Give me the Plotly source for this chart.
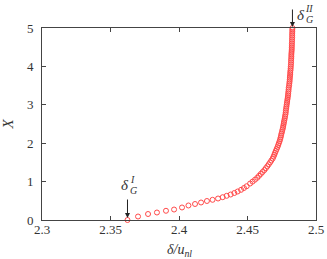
import plotly.graph_objects as go

# Lower branch (sparse markers)
x_low = [0.0, 0.091, 0.156, 0.195, 0.240, 0.273, 0.326, 0.378, 0.417, 0.456,
         0.495, 0.526, 0.560, 0.594, 0.630, 0.664, 0.703, 0.742, 0.786, 0.833, 0.880]
d_low = [2.3624, 2.3701, 2.3774, 2.3839, 2.3905, 2.3964, 2.4022, 2.4069, 2.4117, 2.4161,
         2.4204, 2.4245, 2.4285, 2.4319, 2.4348, 2.4377, 2.4404, 2.4428, 2.4453, 2.4474, 2.4494]

# Upper branch (dense markers)
x_up = [0.95, 1.00, 1.05, 1.10, 1.15, 1.20, 1.25, 1.30, 1.35, 1.40,
        1.45, 1.50, 1.55, 1.60, 1.65, 1.70, 1.75, 1.80, 1.85, 1.90,
        1.95, 2.00, 2.05, 2.10, 2.15, 2.20, 2.25, 2.30, 2.35, 2.40,
        2.45, 2.50, 2.55, 2.60, 2.65, 2.70, 2.75, 2.80, 2.85, 2.90,
        2.95, 3.00, 3.05, 3.10, 3.15, 3.20, 3.25, 3.30, 3.35, 3.40,
        3.45, 3.50, 3.55, 3.60, 3.65, 3.70, 3.75, 3.80, 3.85, 3.90,
        3.95, 4.00, 4.05, 4.10, 4.15, 4.20, 4.25, 4.30, 4.35, 4.40,
        4.45, 4.50, 4.55, 4.60, 4.65, 4.70, 4.75, 4.80, 4.85, 4.90,
        4.95, 5.00]
d_up = [2.4519, 2.4537, 2.4555, 2.4571, 2.4584, 2.4597, 2.4610, 2.4623, 2.4634, 2.4645,
        2.4655, 2.4665, 2.4674, 2.4684, 2.4690, 2.4696, 2.4701, 2.4707, 2.4713, 2.4719,
        2.4724, 2.4729, 2.4734, 2.4738, 2.4742, 2.4745, 2.4748, 2.4752, 2.4755, 2.4759,
        2.4761, 2.4764, 2.4766, 2.4769, 2.4772, 2.4774, 2.4777, 2.4779, 2.4780, 2.4782,
        2.4784, 2.4786, 2.4788, 2.4790, 2.4792, 2.4794, 2.4796, 2.4797, 2.4799, 2.4800,
        2.4801, 2.4804, 2.4805, 2.4807, 2.4808, 2.4809, 2.4810, 2.4812, 2.4812, 2.4814,
        2.4815, 2.4816, 2.4817, 2.4818, 2.4818, 2.4819, 2.4820, 2.4820, 2.4821, 2.4822,
        2.4823, 2.4823, 2.4824, 2.4824, 2.4825, 2.4825, 2.4826, 2.4826, 2.4826, 2.4827,
        2.4827, 2.4828]

x_vals = x_low + x_up
d_vals = d_low + d_up

x_ticks = [2.3, 2.35, 2.4, 2.45, 2.5]
x_ticklabels = ["2.3", "2.35", "2.4", "2.45", "2.5"]
y_ticks = [0, 1, 2, 3, 4, 5]

FONT = "Liberation Serif"
AX = "#444444"
TXT = "#333333"

fig = go.Figure()
fig.add_trace(go.Scatter(
    x=d_vals, y=x_vals, mode="markers",
    marker=dict(symbol="circle-open", size=5, color="#ff4a4a", line=dict(width=1, color="#ff4a4a")),
    showlegend=False, cliponaxis=False, hoverinfo="skip",
))

axis_common = dict(showline=True, linecolor=AX, linewidth=1, mirror="ticks",
                   ticks="inside", ticklen=4, tickcolor=AX, tickwidth=1,
                   showgrid=False, zeroline=False, automargin=False,
                   tickfont=dict(family=FONT, size=13, color=TXT))

fig.update_layout(
    width=327, height=259,
    margin=dict(l=42, r=11, t=28, b=39),
    paper_bgcolor="white", plot_bgcolor="white",
    font=dict(family=FONT, color=TXT),
    xaxis=dict(range=[2.3, 2.5], tickvals=x_ticks, ticktext=x_ticklabels, ticklabelstandoff=-3,
               **axis_common),
    yaxis=dict(range=[0, 5], tickvals=y_ticks, ticklabelstandoff=5,
               title=dict(text="<i>X</i>", font=dict(family=FONT, size=15, color=TXT), standoff=11),
               **axis_common),
)

# x-axis title
fig.add_annotation(x=0.5, y=0, xref="paper", yref="paper", text="<i>δ/u<sub>nl</sub></i>",
                   showarrow=False, font=dict(family=FONT, size=14, color=TXT),
                   xanchor="center", yanchor="middle", yshift=-30)

# arrows
fig.add_annotation(x=d_low[0], y=x_low[0], xref="x", yref="y", text="", showarrow=True,
                   ax=0, ay=-22, arrowhead=2, arrowsize=1, arrowwidth=1, arrowcolor="#222222", standoff=2)
fig.add_annotation(x=d_up[-1], y=x_up[-1], xref="x", yref="y", text="", showarrow=True,
                   ax=0, ay=-20, arrowhead=2, arrowsize=1, arrowwidth=1, arrowcolor="#222222", standoff=1)

# labels delta_G^I
lab_font = dict(family=FONT, size=15, color=TXT)
small_font = dict(family=FONT, size=10, color=TXT)
fig.add_annotation(x=d_low[0], y=x_low[0], xref="x", yref="y", text="<i>δ</i>", showarrow=False,
                   font=lab_font, xshift=-2, yshift=35)
fig.add_annotation(x=d_low[0], y=x_low[0], xref="x", yref="y", text="<i>I</i>", showarrow=False,
                   font=small_font, xshift=5, yshift=41)
fig.add_annotation(x=d_low[0], y=x_low[0], xref="x", yref="y", text="<i>G</i>", showarrow=False,
                   font=small_font, xshift=6, yshift=30)
# labels delta_G^II
fig.add_annotation(x=d_up[-1], y=x_up[-1], xref="x", yref="y", text="<i>δ</i>", showarrow=False,
                   font=lab_font, xshift=9, yshift=13)
fig.add_annotation(x=d_up[-1], y=x_up[-1], xref="x", yref="y", text="<i>II</i>", showarrow=False,
                   font=small_font, xshift=17, yshift=20)
fig.add_annotation(x=d_up[-1], y=x_up[-1], xref="x", yref="y", text="<i>G</i>", showarrow=False,
                   font=small_font, xshift=17, yshift=9)

fig.write_html("out.html", config={"displayModeBar": False},
               post_script="document.body.style.margin='0';document.body.style.overflow='hidden';")
